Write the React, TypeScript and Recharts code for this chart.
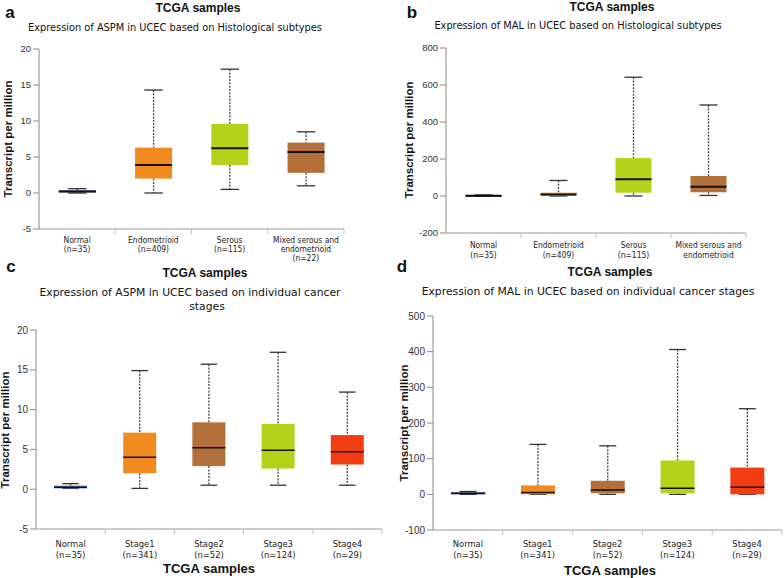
import React from 'react';
import { BarChart, Bar, XAxis, YAxis } from 'recharts';

// category labels (one array entry per line) and sample sizes
const histCategories = [['Normal'], ['Endometrioid'], ['Serous'], ['Mixed serous and', 'endometrioid']];
const histCounts = [35, 409, 115, 22];
const stageCategories = [['Normal'], ['Stage1'], ['Stage2'], ['Stage3'], ['Stage4']];
const stageCounts = [35, 341, 52, 124, 29];

// five-number summaries: [min, q1, median, q3, max]
const aspmHist = [[0, 0.1, 0.2, 0.35, 0.6], [0, 2.0, 3.9, 6.3, 14.3], [0.5, 3.9, 6.2, 9.6, 17.2], [1.0, 2.8, 5.7, 7.0, 8.5]];
const malHist = [[0, 0, 2, 4, 6], [0, 2, 8, 18, 84], [0, 18, 90, 205, 642], [3, 20, 50, 108, 492]];
const aspmStage = [[0.1, 0.1, 0.25, 0.45, 0.7], [0.1, 2.0, 4.0, 7.1, 14.9], [0.5, 2.9, 5.2, 8.4, 15.7], [0.5, 2.6, 4.9, 8.2, 17.2], [0.5, 3.1, 4.7, 6.8, 12.2]];
const malStage = [[0, 0, 3, 5, 8], [0, 0, 5, 25, 140], [0, 3, 12, 38, 136], [0, 3, 17, 95, 406], [0, 0, 20, 75, 240]];

const aspmTicks = [-5, 0, 5, 10, 15, 20];
const malHistTicks = [-200, 0, 200, 400, 600, 800];
const malStageTicks = [-100, 0, 100, 200, 300, 400, 500];

const histColors = ['#1f2d6e', '#f28b1f', '#b4d21a', '#b3703a'];
const stageColorsAspm = ['#6a7ee0', '#f28b1f', '#b3703a', '#b4d21a', '#f23d13'];
const stageColorsMal = ['#1f2d6e', '#f28b1f', '#b3703a', '#b4d21a', '#f23d13'];

const SANS = '"Liberation Sans", Arial, sans-serif';
const VERD = '"DejaVu Sans", Verdana, sans-serif';
const COND = '"DejaVu Sans Condensed", "DejaVu Sans", sans-serif';

function BoxShape(props: any) {
  const { x, y, width, height, payload, medianWidth } = props;
  const [min, q1, median, q3, max] = payload.stats;
  const span = max - min || 1;
  const py = (v: number) => y + (height * (max - v)) / span;
  const cx = x + width / 2;
  const cap = width / 4;
  return (
    <g>
      <line x1={cx} x2={cx} y1={py(max)} y2={py(q3)} stroke="#444" strokeWidth={1.3} strokeDasharray="2 1.3" />
      <line x1={cx} x2={cx} y1={py(q1)} y2={py(min)} stroke="#444" strokeWidth={1.3} strokeDasharray="2 1.3" />
      <line x1={cx - cap} x2={cx + cap} y1={py(max)} y2={py(max)} stroke="#333" strokeWidth={1.3} />
      <line x1={cx - cap} x2={cx + cap} y1={py(min)} y2={py(min)} stroke="#333" strokeWidth={1.3} />
      <rect x={x} y={py(q3)} width={width} height={Math.max(py(q1) - py(q3), 1.5)} fill={payload.color} />
      <line x1={x} x2={x + width} y1={py(median)} y2={py(median)} stroke="#111" strokeWidth={medianWidth} />
    </g>
  );
}

function CategoryTick(props: any) {
  const { x, y, payload, index, labels, counts, fontSize, firstLine, lineGap, maxLines } = props;
  const i = payload && payload.index != null ? payload.index : index;
  const off = payload && payload.offset ? payload.offset : 0;
  const lines = [...labels[i], `(n=${counts[i]})`].slice(0, maxLines || 3);
  return (
    <g>
      <line x1={x + off} x2={x + off} y1={y} y2={y + 5} stroke="#c0c0c0" />
      {lines.map((t: string, k: number) => (
        <text key={k} x={x} y={y + firstLine + k * lineGap} textAnchor="middle" dominantBaseline="central"
          fontSize={fontSize} fontFamily={COND} fill="#222">{t}</text>
      ))}
    </g>
  );
}

function Panel(p: any) {
  const data = p.labels.map((l: string[], i: number) => ({
    name: l.join(' '),
    stats: p.stats[i],
    color: p.colors[i],
  }));
  return (
    <div style={{ position: 'absolute', left: p.left, top: p.top }}>
      <BarChart width={p.width} height={p.height} data={data} margin={p.margin} barCategoryGap="26%">
        <XAxis dataKey="name" height={p.xHeight} tickSize={0} tickMargin={0} interval={0}
          axisLine={{ stroke: '#9a9a9a' }} tickLine={false}
          tick={(t: any) => (
            <CategoryTick {...t} labels={p.labels} counts={p.counts} fontSize={p.catFont}
              firstLine={p.firstLine} lineGap={p.lineGap} maxLines={p.maxLines} />
          )} />
        <YAxis type="number" domain={[p.ticks[0], p.ticks[p.ticks.length - 1]]} ticks={p.ticks}
          width={p.yWidth} interval={0} tickSize={6} tickMargin={2}
          axisLine={{ stroke: '#8a8a8a' }} tickLine={{ stroke: '#8a8a8a' }}
          tick={{ fontSize: p.yFont, fontFamily: SANS, fill: '#333' }} />
        <Bar dataKey={(d: any) => [d.stats[0], d.stats[4]]} isAnimationActive={false}
          shape={(s: any) => <BoxShape {...s} medianWidth={p.medianWidth} />} />
      </BarChart>
    </div>
  );
}

function Txt({ x, y, size, bold, family, children, rotate }: any) {
  return (
    <div style={{
      position: 'absolute', left: x, top: y, whiteSpace: 'nowrap', lineHeight: 1,
      fontSize: size, fontWeight: bold ? 'bold' : 'normal', fontFamily: family, color: '#111',
      transform: `translate(-50%, -50%)${rotate ? ' rotate(-90deg)' : ''}`,
    }}>{children}</div>
  );
}

export default function App() {
  return (
    <div style={{ position: 'absolute', left: 0, top: 0, width: 784, height: 578, background: '#fff', overflow: 'hidden' }}>
      <Panel left={0} top={0} width={392} height={262}
        margin={{ top: 49, right: 48, bottom: 2, left: 9 }} yWidth={30} xHeight={31}
        labels={histCategories} counts={histCounts} stats={aspmHist} colors={histColors}
        ticks={aspmTicks} yFont={9.5} catFont={8.4} firstLine={11} lineGap={9} medianWidth={2} maxLines={3} />
      <Panel left={392} top={0} width={392} height={260}
        margin={{ top: 48, right: 38, bottom: 0, left: 16 }} yWidth={38} xHeight={27}
        labels={histCategories} counts={histCounts} stats={malHist} colors={histColors}
        ticks={malHistTicks} yFont={9.5} catFont={8.4} firstLine={12} lineGap={10} medianWidth={2} maxLines={2} />
      <Panel left={0} top={260} width={392} height={318}
        margin={{ top: 70, right: 10, bottom: 6, left: 8 }} yWidth={28} xHeight={43}
        labels={stageCategories} counts={stageCounts} stats={aspmStage} colors={stageColorsAspm}
        ticks={aspmTicks} yFont={10} catFont={9.3} firstLine={14} lineGap={11} medianWidth={1.5} maxLines={3} />
      <Panel left={392} top={260} width={392} height={318}
        margin={{ top: 56, right: 2, bottom: 6, left: 7 }} yWidth={34} xHeight={42}
        labels={stageCategories} counts={stageCounts} stats={malStage} colors={stageColorsMal}
        ticks={malStageTicks} yFont={10} catFont={9.3} firstLine={13} lineGap={11} medianWidth={1.5} maxLines={3} />

      <Txt x={10} y={12} size={17} bold family={SANS}>a</Txt>
      <Txt x={198} y={8} size={12} bold family={SANS}>TCGA samples</Txt>
      <Txt x={175} y={28} size={9.8} family={VERD}>Expression of ASPM in UCEC based on Histological subtypes</Txt>
      <Txt x={9} y={139} size={11.5} bold family={SANS} rotate>Transcript per million</Txt>

      <Txt x={412} y={12} size={17} bold family={SANS}>b</Txt>
      <Txt x={612} y={7} size={12} bold family={SANS}>TCGA samples</Txt>
      <Txt x={578} y={26} size={9.8} family={VERD}>Expression of MAL in UCEC based on Histological subtypes</Txt>
      <Txt x={410} y={140} size={11.5} bold family={SANS} rotate>Transcript per million</Txt>

      <Txt x={11} y={266} size={17} bold family={SANS}>c</Txt>
      <Txt x={205} y={273} size={12} bold family={SANS}>TCGA samples</Txt>
      <Txt x={190} y={293} size={10.8} family={VERD}>Expression of ASPM in UCEC based on individual cancer</Txt>
      <Txt x={207} y={307} size={10.8} family={VERD}>stages</Txt>
      <Txt x={6} y={430} size={11.5} bold family={SANS} rotate>Transcript per million</Txt>
      <Txt x={209} y={568} size={13} bold family={SANS}>TCGA samples</Txt>

      <Txt x={402} y={266} size={17} bold family={SANS}>d</Txt>
      <Txt x={610} y={272} size={12} bold family={SANS}>TCGA samples</Txt>
      <Txt x={588} y={292} size={10.8} family={VERD}>Expression of MAL in UCEC based on individual cancer stages</Txt>
      <Txt x={405} y={423} size={11.5} bold family={SANS} rotate>Transcript per million</Txt>
      <Txt x={610} y={570} size={13} bold family={SANS}>TCGA samples</Txt>
    </div>
  );
}
